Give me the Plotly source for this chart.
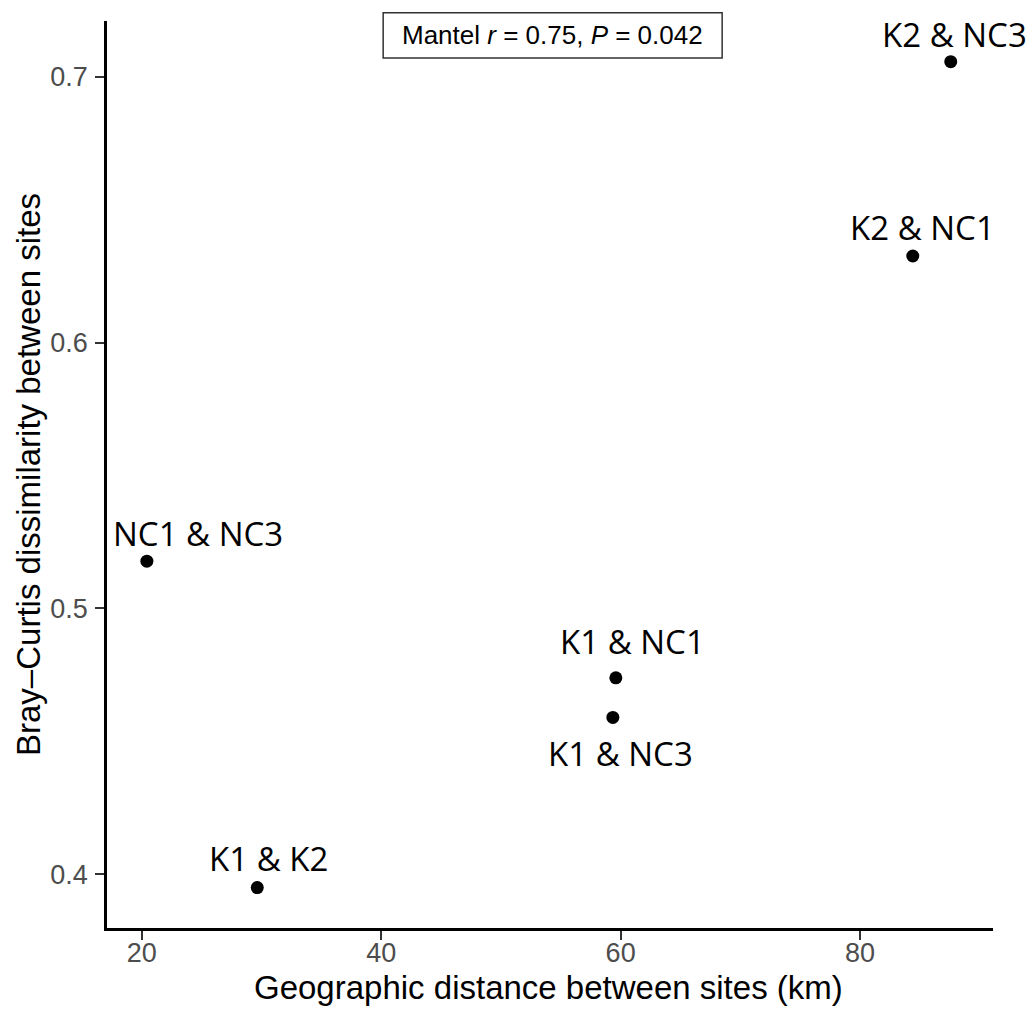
import plotly.graph_objects as go

pairs = ["K2 & NC3", "K2 & NC1", "NC1 & NC3", "K1 & NC1", "K1 & NC3", "K1 & K2"]
geo_km = [87.57, 84.4, 20.43, 59.6, 59.35, 29.65]
bray = [0.7057, 0.6326, 0.5178, 0.4739, 0.459, 0.395]
x_ticks = [20, 40, 60, 80]
y_ticks = [0.4, 0.5, 0.6, 0.7]
y_tick_text = ["0.4", "0.5", "0.6", "0.7"]
x_title = "Geographic distance between sites (km)"
y_title = "Bray–Curtis dissimilarity between sites"
stat_text = "Mantel <i>r</i> = 0.75, <i>P</i> = 0.042"

# label offsets (pixels) to mimic repelled labels
label_shift = {
    "K2 & NC3": (4, 27),
    "K2 & NC1": (10, 28),
    "NC1 & NC3": (51, 28),
    "K1 & NC1": (17, 36),
    "K1 & NC3": (8, -36),
    "K1 & K2": (11, 29),
}

fig = go.Figure()
fig.add_trace(go.Scatter(
    x=geo_km, y=bray, mode="markers",
    marker=dict(color="black", size=13),
    showlegend=False, hoverinfo="skip",
))

for name, xv, yv in zip(pairs, geo_km, bray):
    dx, dy = label_shift[name]
    fig.add_annotation(
        x=xv, y=yv, text=name, showarrow=False,
        xshift=dx, yshift=dy,
        font=dict(family="Open Sans", size=33, color="black"),
    )

fig.add_shape(type="rect", xref="paper", yref="paper",
              x0=0.3117, x1=0.6943, y0=0.9592, y1=1.0092,
              line=dict(color="#333333", width=1.5), fillcolor="white", layer="above")
fig.add_annotation(xref="paper", yref="paper", x=0.503, y=0.9842,
                   text=stat_text, showarrow=False, yanchor="middle",
                   font=dict(family="Liberation Sans, Arial", size=26, color="black"))

title_font = dict(family="Liberation Sans, Arial", size=33, color="black")
fig.add_annotation(xref="paper", yref="paper", x=0.4983, y=-0.0656,
                   text=x_title, showarrow=False, xanchor="center", yanchor="middle",
                   font=title_font)
fig.add_annotation(xref="paper", yref="paper", x=-0.0886, y=0.5,
                   text=y_title, showarrow=False, xanchor="center", yanchor="middle",
                   textangle=-90, font=title_font)

axis_common = dict(
    showgrid=False, zeroline=False, showline=True,
    linecolor="black", linewidth=2.5,
    ticks="outside", ticklen=9, tickwidth=2.2, tickcolor="#333333",
    tickfont=dict(family="Liberation Sans, Arial", size=27, color="#4d4d4d"),
    mirror=False, automargin=False,
)

# page body has an 8px default margin, so the figure is sized to fit the window
fig.update_layout(
    width=1027, height=1001,
    plot_bgcolor="white", paper_bgcolor="white",
    margin=dict(l=99, r=42, t=13, b=81, autoexpand=False),
    xaxis=dict(range=[17.1, 91.1], tickvals=x_ticks, ticktext=[str(v) for v in x_ticks],
               ticklabelstandoff=-10, **axis_common),
    yaxis=dict(range=[0.3798, 0.721], tickvals=y_ticks, ticktext=y_tick_text,
               ticklabelstandoff=2, **axis_common),
)

fig.write_html("out.html")
